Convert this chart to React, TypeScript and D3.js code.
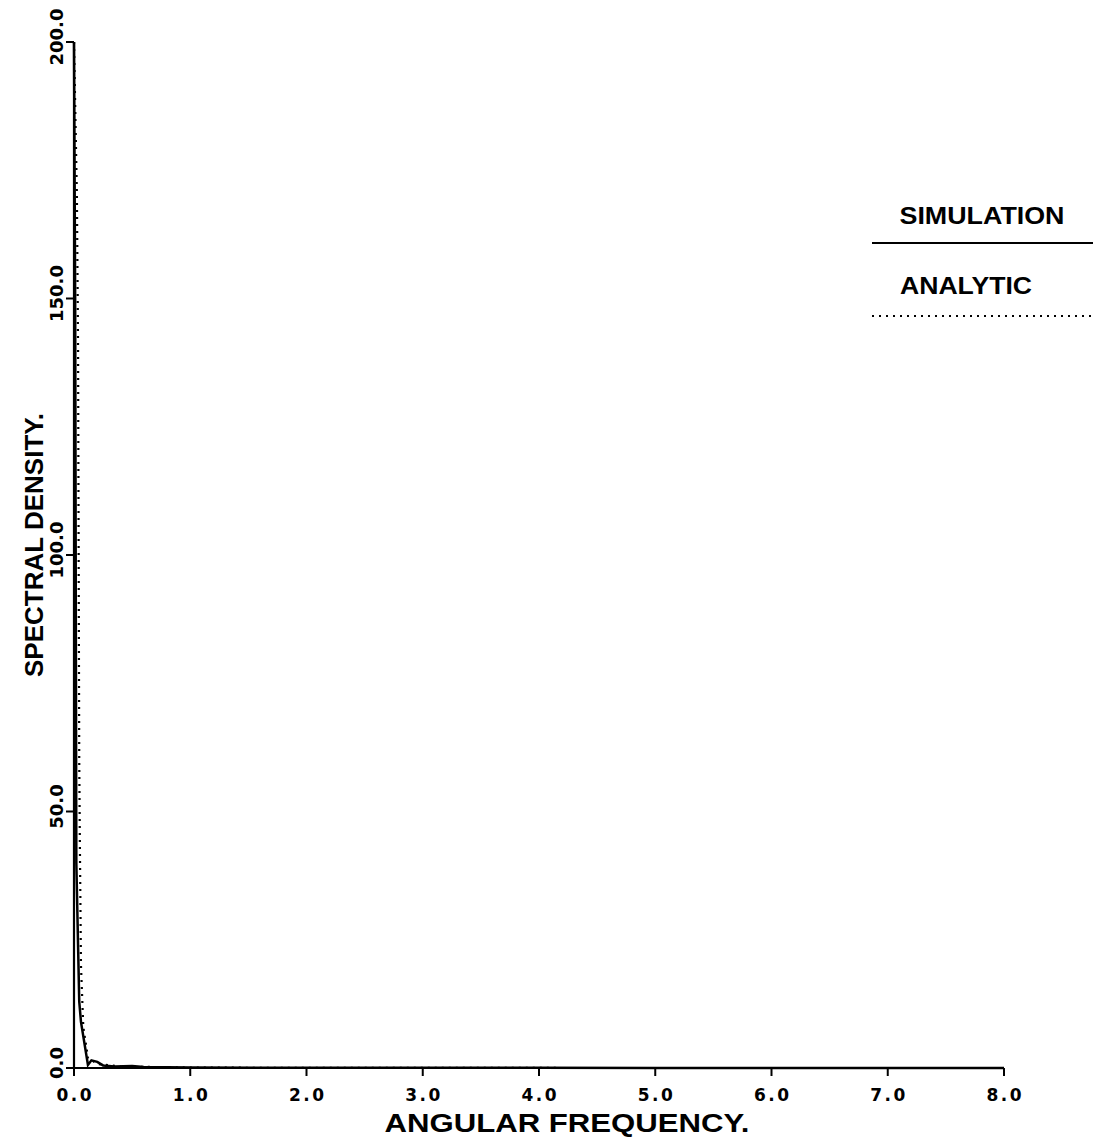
import React from "react";
import * as d3 from "d3";

const xTicks = [0, 1, 2, 3, 4, 5, 6, 7, 8];
const yTicks = [0, 50, 100, 150, 200];
const xTickLabels = ["0.0", "1.0", "2.0", "3.0", "4.0", "5.0", "6.0", "7.0", "8.0"];
const yTickLabels = ["0.0", "50.0", "100.0", "150.0", "200.0"];

// Simulation spectral density (solid)
const simFreq = [0, 0.01, 0.02, 0.045, 0.06, 0.12, 0.15, 0.2, 0.25, 0.35, 0.5, 0.6, 1.0, 2.0, 3.0, 4.0, 5.0, 6.0, 7.0, 8.0];
const simDensity = [200, 150, 40, 13, 9, 0.6, 1.5, 1.2, 0.5, 0.3, 0.4, 0.2, 0.1, 0.05, 0.05, 0.03, 0.02, 0.01, 0.01, 0];

// Analytic spectral density (dotted)
const anaFreq = [0, 0.025, 0.035, 0.04, 0.045, 0.05, 0.06, 0.08, 0.12, 0.2, 0.4, 1.0, 2.0, 4.0, 8.0];
const anaDensity = [200, 170, 140, 100, 60, 45, 20, 8, 2, 0.8, 0.3, 0.08, 0.02, 0.005, 0.001];

const legendItems = ["SIMULATION", "ANALYTIC"];

const W = 1095;
const H = 1142;

export default function App() {
  const x = d3.scaleLinear().domain([0, 8]).range([74, 1004]);
  const y = d3.scaleLinear().domain([0, 200]).range([1068, 42]);
  const line = d3
    .line<[number, number]>()
    .x((d) => x(d[0]))
    .y((d) => y(d[1]));
  const simPts: [number, number][] = simFreq.map((f, i) => [f, simDensity[i]]);
  const anaPts: [number, number][] = anaFreq.map((f, i) => [f, anaDensity[i]]);
  const font = "'Liberation Sans', Arial, sans-serif";
  const tickFont = "'DejaVu Sans', sans-serif";

  return (
    <div style={{ position: "absolute", left: 0, top: 0 }}>
      <svg width={W} height={H} style={{ display: "block", background: "#fff" }}>
        <rect width={W} height={H} fill="#fff" />
        {/* curves */}
        <path d={line(anaPts) || ""} fill="none" stroke="#000" strokeWidth={2.2} strokeDasharray="2,5" />
        <path d={line(simPts) || ""} fill="none" stroke="#000" strokeWidth={2.5} />
        {/* axes */}
        <line x1={x(0)} x2={x(8)} y1={y(0)} y2={y(0)} stroke="#000" strokeWidth={2.2} />
        <line x1={x(0)} x2={x(0)} y1={y(0)} y2={y(200)} stroke="#000" strokeWidth={2.2} />
        {xTicks.map((t, i) => (
          <g key={"xt" + i}>
            <line x1={x(t)} x2={x(t)} y1={y(0)} y2={y(0) + 8} stroke="#000" strokeWidth={2} />
            <text
              x={x(t)}
              y={1101}
              textAnchor="middle"
              fontFamily={tickFont}
              fontWeight="bold"
              fontSize={17}
              textLength={35}
              lengthAdjust="spacing"
            >
              {xTickLabels[i]}
            </text>
          </g>
        ))}
        {yTicks.map((t, i) => (
          <g key={"yt" + i}>
            <line x1={x(0) - 8} x2={x(0)} y1={y(t)} y2={y(t)} stroke="#000" strokeWidth={2} />
            <text
              transform={`translate(63,${y(t) - 5}) rotate(-90)`}
              textAnchor="middle"
              fontFamily={tickFont}
              fontWeight="bold"
              fontSize={18}
            >
              {yTickLabels[i]}
            </text>
          </g>
        ))}
        <text
          x={567}
          y={1132}
          textAnchor="middle"
          fontFamily={font}
          fontWeight="bold"
          fontSize={25}
          textLength={365}
          lengthAdjust="spacingAndGlyphs"
        >
          ANGULAR FREQUENCY.
        </text>
        <text
          transform={`translate(43,545) rotate(-90)`}
          textAnchor="middle"
          fontFamily={font}
          fontWeight="bold"
          fontSize={25}
          textLength={264}
          lengthAdjust="spacingAndGlyphs"
        >
          SPECTRAL DENSITY.
        </text>
        {/* legend */}
        <text
          x={982}
          y={224}
          textAnchor="middle"
          fontFamily={font}
          fontWeight="bold"
          fontSize={24}
          textLength={165}
          lengthAdjust="spacingAndGlyphs"
        >
          {legendItems[0]}
        </text>
        <line x1={872} x2={1093} y1={243} y2={243} stroke="#000" strokeWidth={2.2} />
        <text
          x={966}
          y={294}
          textAnchor="middle"
          fontFamily={font}
          fontWeight="bold"
          fontSize={24}
          textLength={132}
          lengthAdjust="spacingAndGlyphs"
        >
          {legendItems[1]}
        </text>
        <line x1={872} x2={1093} y1={316} y2={316} stroke="#000" strokeWidth={2.2} strokeDasharray="2,5" />
      </svg>
    </div>
  );
}
